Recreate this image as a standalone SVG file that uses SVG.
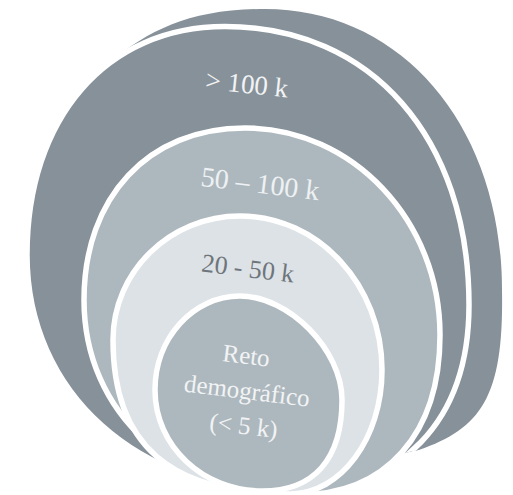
<svg xmlns="http://www.w3.org/2000/svg" width="513" height="495" viewBox="0 0 513 495">
<style>
.ring{stroke:#ffffff;stroke-width:5.5}
.dark{fill:#86919a}
.mid{fill:#adb8be}
.light{fill:#dde2e6}
.lbl{font-family:"Liberation Serif","Times New Roman",serif;text-anchor:middle}
</style>
<defs>
<clipPath id="cut">
<polygon points="0,0 513,0 513,445 413,451 330,472 250,476 170,476 0,476"/>
</clipPath>
</defs>
<rect width="513" height="495" fill="#ffffff"/>
<g id="back" clip-path="url(#cut)">
<path class="dark" d="M110,62 C150,30 190,9 265,9 C402.5,9 502,127 502,290 C504,400 480,430 413,452 L320,445 L150,250 Z"/>
</g>
<g id="ring-100k">
<path class="ring dark" clip-path="url(#cut)" d="M225,26.5 C371.4,26.5 469,137.9 469,305 C469,421 401,492 290,492 C137.5,492 27,392.5 27,255 C27,117.9 106.2,26.5 225,26.5 Z"/>
<text class="lbl" x="246" y="93" font-size="27" fill="#f2f3f4" transform="rotate(6 246 93)">&gt; 100 k</text>
</g>
<g id="ring-50-100k">
<path class="ring mid" d="M245,128 C352.6,128 440,220.7 440,335 C440,434.2 386,495 298,495 C173.9,495 84,413.1 84,300 C84,196.8 148.4,128 245,128 Z"/>
<text class="lbl" x="259" y="193" font-size="28" fill="#eef1f3" transform="rotate(7 259 193)">50 – 100 k</text>
</g>
<g id="ring-20-50k">
<path class="ring light" d="M240,216 C318.4,216 382,285 382,370 C382,438.4 340.8,494 290,494 C169.6,494 113,444.7 113,340 C113,271.6 169.9,216 240,216 Z"/>
<text class="lbl" x="247" y="277" font-size="26" fill="#6e767c" transform="rotate(7 247 277)">20 - 50 k</text>
</g>
<g id="core">
<path class="ring mid" d="M240,296 C289,296 342,350 342,400 C342,459.2 314,491 262,491 C202.9,491 155,445.8 155,390 C155,338.1 193.1,296 240,296 Z"/>
<g transform="rotate(7 245 399)">
<text class="lbl" x="241" y="364" font-size="25" fill="#f2f3f4">Reto</text>
<text class="lbl" x="246" y="399" font-size="25" fill="#f2f3f4">demográfico</text>
<text class="lbl" x="247" y="434" font-size="25" fill="#f2f3f4">(&lt; 5 k)</text>
</g>
</g>
<g id="connectors"/>
</svg>
